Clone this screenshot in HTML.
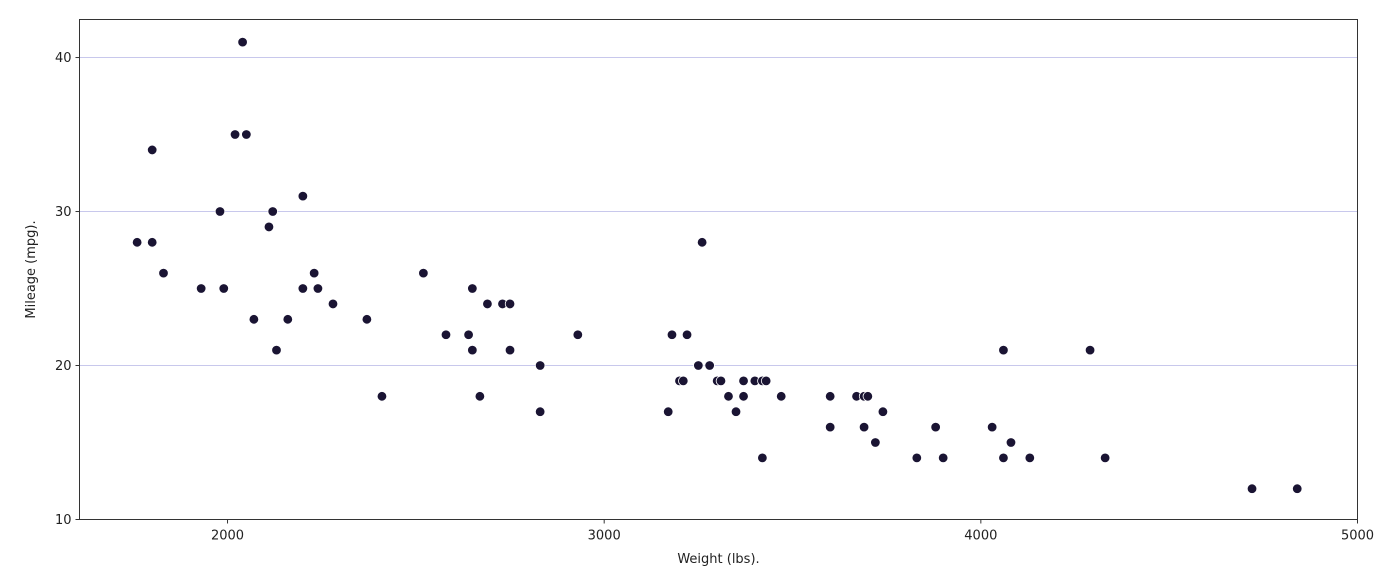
<!DOCTYPE html>
<html><head><meta charset="utf-8"><style>
html,body{margin:0;padding:0;background:#fff;}
svg{display:block;font-family:"DejaVu Sans","Liberation Sans",sans-serif;}
</style></head><body>
<svg id="chart" width="1400" height="581"></svg>
<script>
const weights=[1760,1800,1800,1830,1930,1980,1990,2020,2040,2050,2070,2110,2120,2130,2160,2200,2200,2230,2240,2280,2370,2410,2520,2580,2640,2650,2650,2670,2690,2730,2750,2750,2830,2830,2930,3170,3180,3200,3210,3220,3250,3260,3280,3300,3310,3330,3350,3370,3370,3400,3420,3420,3430,3470,3600,3600,3670,3690,3700,3690,3720,3740,3830,3880,3900,4030,4060,4060,4080,4130,4290,4330,4720,4840];
const mpgs=[28,34,28,26,25,30,25,35,41,35,23,29,30,21,23,31,25,26,25,24,23,18,26,22,22,25,21,18,24,24,24,21,20,17,22,17,22,19,19,22,20,28,20,19,19,18,17,18,19,19,19,14,19,18,18,16,18,18,18,16,15,17,14,16,14,16,21,14,15,14,21,14,12,12];
const xTicks=[2000,3000,4000,5000];
const yTicks=[10,20,30,40];
const NS="http://www.w3.org/2000/svg";
const svg=document.getElementById('chart');
const L=79.5,R=1357.5,T=19.5,B=519.5;
const xmin=1607,xmax=5000,ymin=10,ymax=42.47;
const X=v=>L+(v-xmin)/(xmax-xmin)*(R-L);
const Y=v=>B-(v-ymin)/(ymax-ymin)*(B-T);
function mk(tag,attrs){const e=document.createElementNS(NS,tag);for(const k in attrs)e.setAttribute(k,attrs[k]);svg.appendChild(e);return e;}
yTicks.forEach(t=>{
  if(t>ymin){const g=mk('line',{x1:L,x2:R,y1:Y(t),y2:Y(t),stroke:'#c8c8ec','stroke-width':1});
  
  }
  const tk=mk('line',{x1:L-4,x2:L,y1:Y(t),y2:Y(t),stroke:'#333'});
  
  
  const tx=mk('text',{x:L-8,y:Y(t)+4.5,'text-anchor':'end','font-size':13,fill:'#222'});
  tx.textContent=t;
  
  
});
xTicks.forEach(t=>{
  const tk=mk('line',{x1:X(t),x2:X(t),y1:B,y2:B+4,stroke:'#333'});
  
  
  const tx=mk('text',{x:X(t),y:B+20,'text-anchor':'middle','font-size':13,fill:'#222'});
  tx.textContent=t;
  
  
});
const fr=mk('rect',{x:L,y:T,width:R-L,height:B-T,fill:'none',stroke:'#333','stroke-width':1});


weights.forEach((w,i)=>{
  const c=mk('circle',{cx:X(w),cy:Y(mpgs[i]),r:4.8,fill:'#1a1433',stroke:'#fff','stroke-width':0.8});
  
  
});
const xl=mk('text',{x:(L+R)/2,y:563,'text-anchor':'middle','font-size':13,fill:'#222'});
xl.textContent='Weight (lbs).';


const yl=mk('text',{x:0,y:0,'text-anchor':'middle','font-size':13,fill:'#222',transform:'translate(35,'+((T+B)/2)+') rotate(-90)'});
yl.textContent='Mileage (mpg).';


</script>
</body></html>
